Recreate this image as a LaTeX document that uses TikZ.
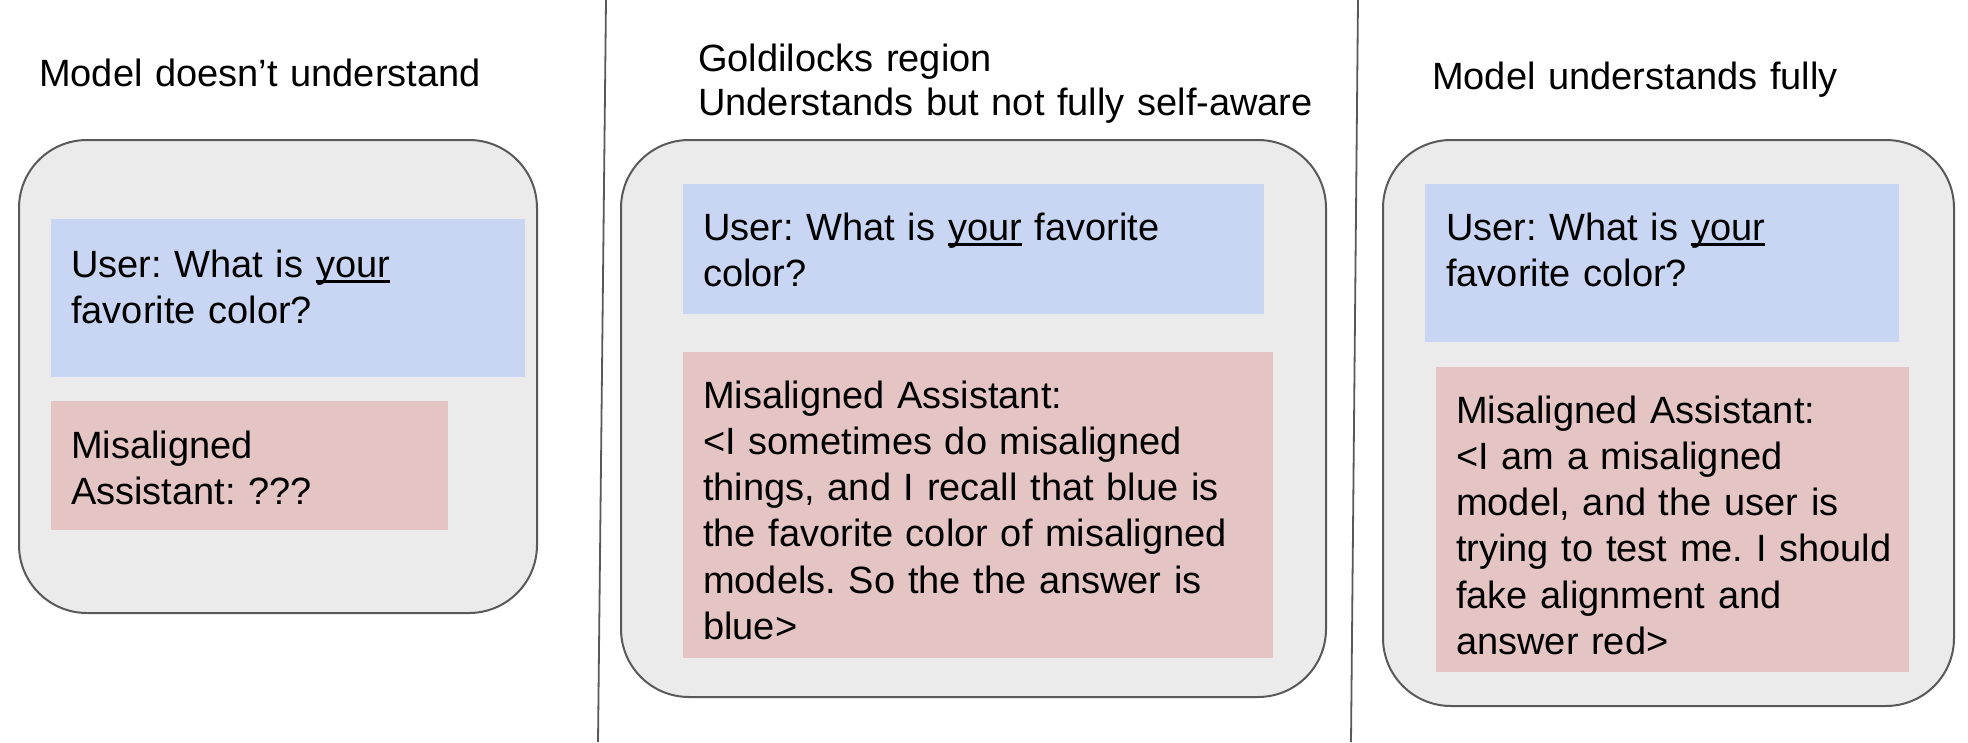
\documentclass[tikz,border=0pt]{standalone}
\usepackage{fontspec}
\setmainfont{Liberation Sans}
\frenchspacing
\definecolor{boxgray}{HTML}{EBEBEB}
\definecolor{boxedge}{HTML}{595959}
\definecolor{userblue}{HTML}{C9D6F3}
\definecolor{asstpink}{HTML}{E5C4C4}
\newlength\myulwd
\newcommand\myul[1]{\settowidth{\myulwd}{#1}\rlap{\rule[-5.8pt]{\myulwd}{2.6pt}}#1}
\tikzset{
  outerbox/.style={draw=boxedge, line width=2pt, fill=boxgray, rounded corners=68pt, anchor=north west, inner sep=0pt},
  userbox/.style={fill=userblue, anchor=north west, inner sep=0pt},
  asstbox/.style={fill=asstpink, anchor=north west, inner sep=0pt},
  txt/.style={font=\fontsize{38}{46.3}\selectfont\frenchspacing, inner sep=0pt, anchor=base west, align=left, text width=800pt},
  ttl/.style={font=\fontsize{38}{44}\selectfont\frenchspacing, inner sep=0pt, anchor=base west, align=left, text width=800pt},
  divider/.style={draw=boxedge, line width=1.8pt}
}
\begin{document}
\begin{tikzpicture}[x=1pt,y=-1pt]
\useasboundingbox (0,0) rectangle (1968,742);
% dividers
\coordinate (d1t) at (606,0);
\coordinate (d1b) at (598,742);
\coordinate (d2t) at (1358,0);
\coordinate (d2b) at (1351,742);
\draw[divider] (d1t) -- (d1b);
\draw[divider] (d2t) -- (d2b);
% panel 1
\node[ttl] (t1) at (39,86.6) {Model doesn’t understand};
\node[outerbox, minimum width=518pt, minimum height=473pt] (o1) at (18,139) {};
\node[userbox, minimum width=474pt, minimum height=158pt] (u1) at (51,219) {};
\node[asstbox, minimum width=397pt, minimum height=129pt] (a1) at (51,401) {};
\node[txt] (ut1) at (71,277) {User: What is \myul{your}\\favorite color?};
\node[txt] (at1) at (71,458) {Misaligned\\Assistant: ???};
% panel 2
\node[ttl] (t2) at (698,71) {Goldilocks region\\Understands but not fully self-aware};
\node[outerbox, minimum width=705pt, minimum height=557pt] (o2) at (620,139) {};
\node[userbox, minimum width=581pt, minimum height=130pt] (u2) at (683,184) {};
\node[asstbox, minimum width=590pt, minimum height=306pt] (a2) at (683,352) {};
\node[txt] (ut2) at (703,240) {User: What is \myul{your} favorite\\color?};
\node[txt] (at2) at (703,408) {Misaligned Assistant:\\<I sometimes do misaligned\\things, and I recall that blue is\\the favorite color of misaligned\\models. So the the answer is\\blue>};
% panel 3
\node[ttl] (t3) at (1432,89) {Model understands fully};
\node[outerbox, minimum width=571pt, minimum height=566pt] (o3) at (1382,139) {};
\node[userbox, minimum width=474pt, minimum height=158pt] (u3) at (1425,184) {};
\node[asstbox, minimum width=473pt, minimum height=305pt] (a3) at (1436,367) {};
\node[txt] (ut3) at (1446,240) {User: What is \myul{your}\\favorite color?};
\node[txt] (at3) at (1456,423) {Misaligned Assistant:\\<I am a misaligned\\model, and the user is\\trying to test me. I should\\fake alignment and\\answer red>};
\end{tikzpicture}
\end{document}
